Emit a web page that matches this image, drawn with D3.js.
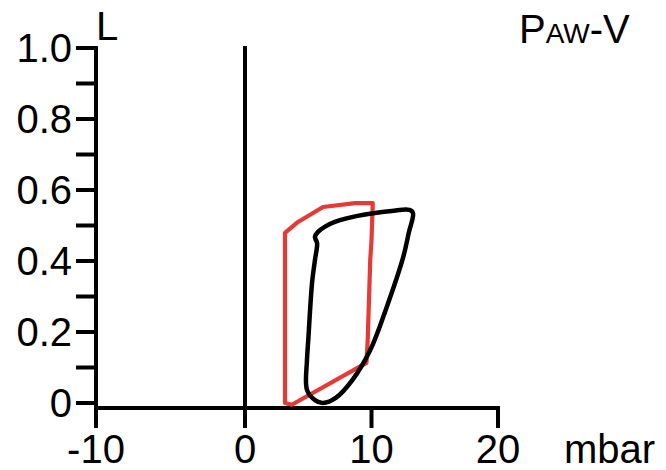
<!DOCTYPE html>
<html>
<head>
<meta charset="utf-8">
<script src="https://cdn.jsdelivr.net/npm/d3@7"></script>
<style>
  html, body { margin: 0; padding: 0; background: #fff; }
  svg { display: block; }
  text { font-family: "Liberation Sans", Arial, sans-serif; fill: #000; }
</style>
</head>
<body>
<svg id="chart" width="666" height="470"></svg>
<script>
// Pressure (mbar) / volume (L) loops
const xTicks = [-10, 0, 10, 20];
const yMajorTicks = [0, 0.2, 0.4, 0.6, 0.8, 1.0];
const yMinorTicks = [0.1, 0.3, 0.5, 0.7, 0.9];
const yTickLabels = ["0", "0.2", "0.4", "0.6", "0.8", "1.0"];

// red loop: pressure values and matching volumes
const redPressure = [3.16, 3.16, 4.19, 6.17, 8.7, 10.1, 10.0, 9.9, 9.7, 9.6, 3.7];
const redVolume   = [0.0, 0.479, 0.51, 0.552, 0.563, 0.563, 0.459, 0.403, 0.177, 0.113, -0.005];

// black loop: pressure values and matching volumes
const blackPressure = [13.28, 12.95, 12.5, 11.2, 9.9, 8.5, 7.2, 6.17, 5.53, 4.9, 4.9, 5.0, 5.3, 5.53, 5.7, 5.53, 5.77, 6.3, 7.1, 8.9, 11.6, 13.0];
const blackVolume   = [0.535, 0.48, 0.41, 0.27, 0.149, 0.065, 0.015, 0.0, 0.008, 0.037, 0.121, 0.177, 0.338, 0.403, 0.45, 0.468, 0.482, 0.496, 0.51, 0.527, 0.541, 0.544];

const svg = d3.select("#chart");

// the negative side of the pressure axis is drawn slightly wider
const x = d3.scaleLinear().domain([-10, 0, 20]).range([96, 245, 498]);
const y = d3.scaleLinear().domain([0, 1]).range([403, 48]);
const axisY = 408;

const stroke = 4;
const tickLen = 20;

// y axis
const yAxis = svg.append("g");
yAxis.append("line")
  .attr("x1", x(-10)).attr("x2", x(-10))
  .attr("y1", y(1) - 2).attr("y2", axisY + 2)
  .attr("stroke", "#000").attr("stroke-width", stroke);
yAxis.selectAll("line.tick")
  .data(yMajorTicks.concat(yMinorTicks))
  .join("line").attr("class", "tick")
  .attr("x1", x(-10) - tickLen).attr("x2", x(-10))
  .attr("y1", d => y(d)).attr("y2", d => y(d))
  .attr("stroke", "#000").attr("stroke-width", stroke);
yAxis.selectAll("text")
  .data(yMajorTicks)
  .join("text")
  .attr("x", x(-10) - 24)
  .attr("y", d => y(d))
  .attr("dy", "0.36em")
  .attr("text-anchor", "end")
  .attr("font-size", 40)
  .text((d, i) => yTickLabels[i]);

// x axis
const xAxis = svg.append("g");
xAxis.append("line")
  .attr("x1", x(-10) - 2).attr("x2", x(20) + 2)
  .attr("y1", axisY).attr("y2", axisY)
  .attr("stroke", "#000").attr("stroke-width", stroke);
xAxis.selectAll("line.tick")
  .data(xTicks)
  .join("line").attr("class", "tick")
  .attr("x1", d => x(d)).attr("x2", d => x(d))
  .attr("y1", d => d === 0 ? y(1) - 2 : axisY)
  .attr("y2", axisY + tickLen)
  .attr("stroke", "#000").attr("stroke-width", stroke);
xAxis.selectAll("text")
  .data(xTicks)
  .join("text")
  .attr("x", d => x(d))
  .attr("y", 463)
  .attr("text-anchor", "middle")
  .attr("font-size", 40)
  .text(d => String(d));

// axis units
svg.append("text").attr("x", 96).attr("y", 40).attr("font-size", 40).text("L");
svg.append("text").attr("x", 564).attr("y", 463).attr("font-size", 40).text("mbar");

// title with small-caps subscript
const title = svg.append("text").attr("x", 519).attr("y", 43).attr("font-size", 40);
title.append("tspan").text("P");
title.append("tspan").attr("font-size", 28).text("AW");
title.append("tspan").text("-V");

// loops
const line = d3.line()
  .x(d => x(d[0]))
  .y(d => y(d[1]));

const redPts = redPressure.map((p, i) => [p, redVolume[i]]);
const blackPts = blackPressure.map((p, i) => [p, blackVolume[i]]);

svg.append("path")
  .attr("d", line.curve(d3.curveLinearClosed)(redPts))
  .attr("fill", "none")
  .attr("stroke", "#e53a35")
  .attr("stroke-width", 4.2)
  .attr("stroke-linejoin", "round");

svg.append("path")
  .attr("d", line.curve(d3.curveCatmullRomClosed.alpha(0.5))(blackPts))
  .attr("fill", "none")
  .attr("stroke", "#000")
  .attr("stroke-width", 4.5)
  .attr("stroke-linejoin", "round");
</script>
</body>
</html>
